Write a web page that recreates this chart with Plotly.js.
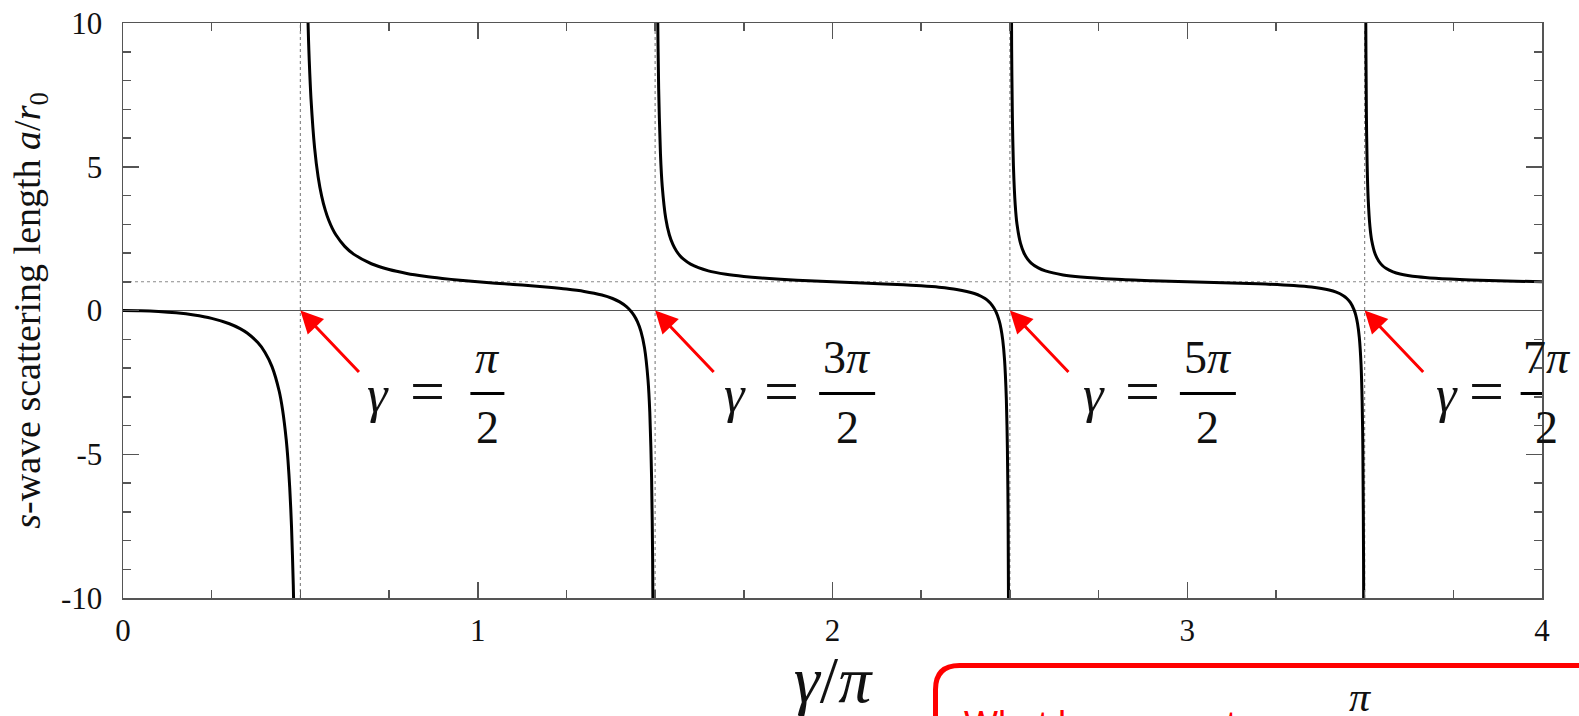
<!DOCTYPE html>
<html>
<head>
<meta charset="utf-8">
<script src="https://cdn.plot.ly/plotly-3.0.1.min.js"></script>
<style>
  html, body { margin: 0; padding: 0; background: #ffffff; }
  #chart { width: 1579px; height: 716px; }
</style>
</head>
<body>
<div id="chart"></div>
<script>
// s-wave scattering length a/r0 of an attractive square well versus its strength γ/π.
// One array pair per branch between the poles at γ = (2n+1)π/2.
const xBranch1 = [0, 0.05, 0.1, 0.15, 0.2, 0.25, 0.3, 0.33, 0.35, 0.38, 0.4, 0.42, 0.44, 0.45, 0.46, 0.465, 0.47, 0.475, 0.48, 0.482];
const yBranch1 = [0, -0.008, -0.034, -0.081, -0.156, -0.273, -0.460, -0.631, -0.785, -1.116, -1.449, -1.952, -2.792, -3.466, -4.478, -5.200, -6.165, -7.515, -9.540, -10.67];

const xBranch2 = [0.52, 0.523, 0.525, 0.53, 0.54, 0.55, 0.56, 0.57, 0.58, 0.59, 0.6, 0.625, 0.65, 0.7, 0.75, 0.8, 0.85, 0.9, 0.95, 1.0, 1.05, 1.1, 1.15, 1.2, 1.25, 1.3, 1.35, 1.38, 1.4, 1.42, 1.43, 1.44, 1.45, 1.46, 1.47, 1.48, 1.485, 1.49, 1.493, 1.495];
const yBranch2 = [10.73, 9.41, 8.70, 7.354, 5.666, 4.654, 3.980, 3.498, 3.137, 2.857, 2.633, 2.230, 1.961, 1.626, 1.424, 1.289, 1.191, 1.115, 1.053, 1.0, 0.952, 0.906, 0.859, 0.807, 0.745, 0.663, 0.537, 0.417, 0.300, 0.127, 0.004, -0.159, -0.386, -0.726, -1.291, -2.418, -3.545, -5.798, -8.694, -12.55];

const xBranch3 = [1.505, 1.507, 1.51, 1.515, 1.52, 1.53, 1.54, 1.55, 1.56, 1.57, 1.58, 1.6, 1.65, 1.7, 1.75, 1.8, 1.9, 2.0, 2.1, 2.2, 2.25, 2.3, 2.35, 2.4, 2.42, 2.43, 2.44, 2.45, 2.46, 2.47, 2.475, 2.48, 2.485, 2.49, 2.493, 2.495, 2.497];
const yBranch3 = [14.46, 10.60, 7.708, 5.455, 4.329, 3.201, 2.636, 2.297, 2.070, 1.907, 1.785, 1.612, 1.379, 1.258, 1.182, 1.128, 1.054, 1.0, 0.951, 0.895, 0.859, 0.810, 0.734, 0.592, 0.488, 0.414, 0.316, 0.180, -0.024, -0.363, -0.634, -1.040, -1.716, -3.068, -4.806, -7.121, -12.53];

const xBranch4 = [2.503, 2.505, 2.507, 2.51, 2.515, 2.52, 2.53, 2.54, 2.55, 2.56, 2.58, 2.6, 2.65, 2.7, 2.8, 2.9, 3.0, 3.1, 3.2, 3.3, 3.35, 3.4, 3.42, 3.44, 3.45, 3.46, 3.47, 3.475, 3.48, 3.485, 3.49, 3.493, 3.495, 3.497, 3.498];
const yBranch4 = [14.49, 9.089, 6.773, 5.035, 3.684, 3.008, 2.331, 1.992, 1.788, 1.652, 1.481, 1.377, 1.236, 1.162, 1.083, 1.036, 1.0, 0.967, 0.928, 0.867, 0.814, 0.712, 0.638, 0.515, 0.417, 0.272, 0.030, -0.164, -0.454, -0.937, -1.902, -3.144, -4.798, -8.658, -13.48];

const xBranch5 = [3.502, 3.503, 3.505, 3.507, 3.51, 3.515, 3.52, 3.53, 3.54, 3.55, 3.56, 3.58, 3.6, 3.65, 3.7, 3.8, 3.9, 4.0];
const yBranch5 = [15.47, 10.64, 6.781, 5.127, 3.886, 2.920, 2.437, 1.954, 1.712, 1.566, 1.469, 1.346, 1.272, 1.171, 1.118, 1.061, 1.027, 1.0];

// Poles of the scattering length and the large-γ limit a/r0 → 1
const poles = [0.5, 1.5, 2.5, 3.5];
const poleNumerators = ['<i>π</i>', '3<i>π</i>', '5<i>π</i>', '7<i>π</i>'];
const asymptoteLevel = 1;

const xTickVals = [0, 1, 2, 3, 4];
const xTickText = ['0', '1', '2', '3', '4'];
const yTickVals = [-10, -5, 0, 5, 10];
const yTickText = ['-10', '-5', '0', '5', '10'];

const W = 1579, H = 716, L = 123, R = 37, T = 23, B = 118;
const serif = 'Liberation Serif';
const sans = 'Liberation Sans';
const axisGrey = '#555555';
const ink = '#111111';

// label placement (pixel offsets from each pole's arrow tip)
const barWidths = [34, 56, 56, 52];
const gammaDx = [78, 80, 84, 82];
const equalsDx = [127, 126, 133, 122];
const fracDx = [187, 192, 198, 182];

const px = v => (v - L) / (W - L - R);
const py = v => (H - B - v) / (H - T - B);

const branches = [
  [xBranch1, yBranch1], [xBranch2, yBranch2], [xBranch3, yBranch3],
  [xBranch4, yBranch4], [xBranch5, yBranch5]
];
const traces = branches.map(([xs, ys]) => ({
  type: 'scatter', mode: 'lines', x: xs, y: ys,
  line: { color: '#000000', width: 3, shape: 'spline', smoothing: 0.8 },
  hoverinfo: 'skip', showlegend: false
}));

const axisBase = {
  showline: true, linecolor: axisGrey, linewidth: 1.5, mirror: 'allticks',
  ticks: 'inside', ticklen: 16, tickwidth: 1.5, tickcolor: axisGrey,
  showgrid: false, automargin: false, fixedrange: true,
  tickfont: { family: serif, size: 31, color: ink }
};

const shapes = [];
poles.forEach(p => shapes.push({
  type: 'line', xref: 'x', yref: 'y', x0: p, x1: p, y0: -10, y1: 10, layer: 'below',
  line: { color: '#8a8a8a', width: 1.2, dash: 'dot' }
}));
shapes.push({
  type: 'line', xref: 'x', yref: 'y', x0: 0, x1: 4, y0: asymptoteLevel, y1: asymptoteLevel, layer: 'below',
  line: { color: '#8a8a8a', width: 1.2, dash: 'dot' }
});
// fraction bars under the numerators
poles.forEach((p, i) => shapes.push({
  type: 'line', xref: 'x', yref: 'y', xsizemode: 'pixel', ysizemode: 'pixel',
  xanchor: p, yanchor: 0,
  x0: fracDx[i] - barWidths[i] / 2, x1: fracDx[i] + barWidths[i] / 2, y0: -83, y1: -83,
  line: { color: '#000000', width: 3 }
}));
// red callout box running off the lower right corner
const bx = 935.5, by = 665.5, rr = 24;
shapes.push({
  type: 'path', xref: 'paper', yref: 'paper',
  path: `M ${px(bx)},${py(780)} L ${px(bx)},${py(by + rr)} Q ${px(bx)},${py(by)} ${px(bx + rr)},${py(by)} L ${px(1650)},${py(by)}`,
  line: { color: '#ff0000', width: 5 }
});

const annotations = [];
poles.forEach((p, i) => {
  annotations.push({
    x: p, y: 0, xref: 'x', yref: 'y', text: '', showarrow: true,
    arrowhead: 2, arrowsize: 1.5, arrowwidth: 3, arrowcolor: '#ff0000',
    ax: 60, ay: 63, standoff: 0
  });
  const common = { x: p, y: 0, xref: 'x', yref: 'y', showarrow: false, xanchor: 'center', yanchor: 'middle' };
  annotations.push({ ...common, text: '<i>γ</i>', xshift: gammaDx[i], yshift: -84, font: { family: serif, size: 52, color: ink } });
  annotations.push({ ...common, text: '=', xshift: equalsDx[i], yshift: -80, font: { family: serif, size: 62, color: ink } });
  annotations.push({ ...common, text: poleNumerators[i], xshift: fracDx[i], yshift: -47, font: { family: serif, size: 46, color: ink } });
  annotations.push({ ...common, text: '2', xshift: fracDx[i], yshift: -117, font: { family: serif, size: 46, color: ink } });
});
annotations.push({
  xref: 'paper', yref: 'paper', x: px(962), y: py(702), xanchor: 'left', yanchor: 'top',
  text: 'What happens at <i>γ</i> = ', showarrow: false,
  font: { family: sans, size: 36, color: '#ff0000' }
});
annotations.push({
  xref: 'paper', yref: 'paper', x: px(1360), y: py(697), xanchor: 'center', yanchor: 'middle',
  text: '<i>π</i>', showarrow: false,
  font: { family: serif, size: 42, color: ink }
});

const layout = {
  width: W, height: H,
  margin: { l: L, r: R, t: T, b: B },
  paper_bgcolor: '#ffffff', plot_bgcolor: '#ffffff',
  showlegend: false,
  xaxis: {
    ...axisBase, range: [0, 4], tickmode: 'array', tickvals: xTickVals, ticktext: xTickText,
    ticklabelstandoff: 4,
    minor: { tickmode: 'linear', tick0: 0, dtick: 0.25, ticks: 'inside', ticklen: 8, tickwidth: 1.5, tickcolor: axisGrey },
    zeroline: false,
    title: { text: '\u00a0\u00a0<i>γ</i>/<i>π</i>', font: { family: serif, size: 66, color: ink }, standoff: 10 }
  },
  yaxis: {
    ...axisBase, range: [-10, 10], tickmode: 'array', tickvals: yTickVals, ticktext: yTickText,
    ticklabelstandoff: 13,
    minor: { tickmode: 'linear', tick0: 0, dtick: 1, ticks: 'inside', ticklen: 8, tickwidth: 1.5, tickcolor: axisGrey },
    zeroline: true, zerolinecolor: axisGrey, zerolinewidth: 1.5,
    title: { text: '<i>s</i>-wave scattering length <i>a</i>/<i>r</i><sub>0</sub>', font: { family: serif, size: 38, color: ink }, standoff: 8 }
  },
  shapes: shapes,
  annotations: annotations
};

Plotly.newPlot('chart', traces, layout, { displayModeBar: false, staticPlot: true });
</script>
</body>
</html>
